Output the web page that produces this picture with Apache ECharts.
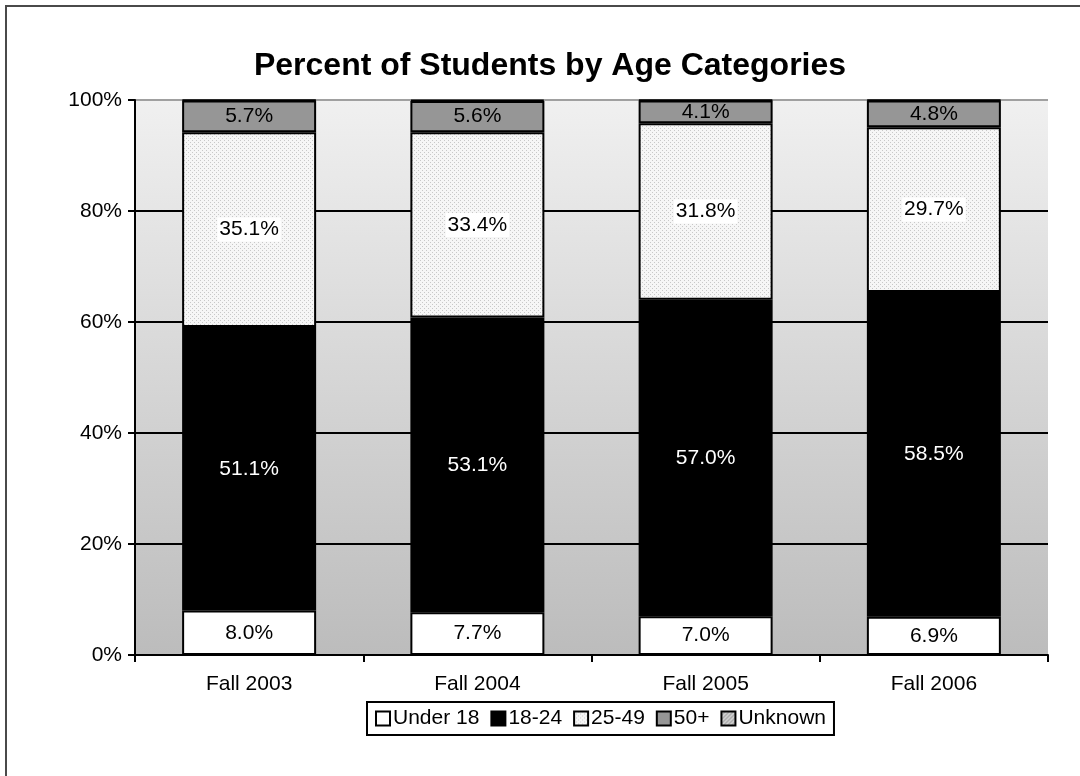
<!DOCTYPE html>
<html>
<head>
<meta charset="utf-8">
<script src="https://cdn.jsdelivr.net/npm/echarts@6/dist/echarts.min.js"></script>
<style>
html,body{margin:0;padding:0;background:#fff;}
#chart{width:1080px;height:776px;}
</style>
</head>
<body>
<div id="chart"></div>
<script>
var categories = ['Fall 2003', 'Fall 2004', 'Fall 2005', 'Fall 2006'];
var under18 = [8.0, 7.7, 7.0, 6.9];
var age18to24 = [51.1, 53.1, 57.0, 58.5];
var age25to49 = [35.1, 33.4, 31.8, 29.7];
var age50plus = [5.7, 5.6, 4.1, 4.8];
var unknown = [0.1, 0.2, 0.1, 0.1];
var yTicks = [0, 20, 40, 60, 80, 100];

function makePattern(type) {
  var c = document.createElement('canvas');
  c.width = 4; c.height = 4;
  var ctx = c.getContext('2d');
  if (type === 'dots') {
    ctx.fillStyle = '#f6f6f6';
    ctx.fillRect(0, 0, 4, 4);
    ctx.fillStyle = '#c8c8c8';
    ctx.fillRect(0, 0, 1, 1);
    ctx.fillRect(2, 2, 1, 1);
  } else {
    ctx.fillStyle = '#d0d0d0';
    ctx.fillRect(0, 0, 4, 4);
    ctx.fillStyle = '#8a8a8a';
    ctx.fillRect(0, 3, 1, 1);
    ctx.fillRect(1, 2, 1, 1);
    ctx.fillRect(2, 1, 1, 1);
    ctx.fillRect(3, 0, 1, 1);
  }
  return { image: c, repeat: 'repeat' };
}

var FONT = 'Liberation Sans, Arial, sans-serif';
var FS = 21;
function fmt(p) { return p.value.toFixed(1) + '%'; }

var chart = echarts.init(document.getElementById('chart'), null, { renderer: 'canvas' });
var baseItem = { borderColor: '#000', borderWidth: 2 };

chart.setOption({
  backgroundColor: '#fff',
  animation: false,
  textStyle: { fontFamily: FONT },
  graphic: [{
    type: 'rect',
    shape: { x: 6, y: 6, width: 2000, height: 2000 },
    style: { fill: 'none', stroke: '#4a4a4a', lineWidth: 2 },
    silent: true
  }],
  title: {
    text: 'Percent of Students by Age Categories',
    left: 545, textAlign: 'center', top: 45,
    textStyle: { fontFamily: FONT, fontSize: 32, fontWeight: 'bold', color: '#000' }
  },
  legend: {
    left: 367, top: 702,
    orient: 'horizontal',
    borderColor: '#000', borderWidth: 2,
    padding: [6, 8, 6, 8],
    itemWidth: 14, itemHeight: 14, itemGap: 11,
    icon: 'rect',
    textStyle: { fontFamily: FONT, fontSize: FS, color: '#000', padding: [0, 0, 0, -2] },
    data: ['Under 18', '18-24', '25-49', '50+', 'Unknown']
  },
  grid: {
    left: 135, right: 32, top: 100, bottom: 121,
    show: true,
    borderWidth: 0,
    backgroundColor: {
      type: 'linear', x: 0, y: 0, x2: 0, y2: 1,
      colorStops: [{ offset: 0, color: '#f0f0f0' }, { offset: 1, color: '#bcbcbc' }]
    }
  },
  xAxis: {
    type: 'category',
    data: categories,
    axisLine: { lineStyle: { color: '#000', width: 2 } },
    axisTick: { show: true, length: 7, lineStyle: { color: '#000', width: 2 } },
    axisLabel: { fontFamily: FONT, fontSize: FS, color: '#000', margin: 19 }
  },
  yAxis: {
    type: 'value',
    min: 0, max: 100, interval: 20,
    axisLine: { show: true, lineStyle: { color: '#000', width: 2 } },
    axisTick: { show: true, length: 7, lineStyle: { color: '#000', width: 2 } },
    axisLabel: {
      fontFamily: FONT, fontSize: FS, color: '#000', margin: 13,
      formatter: function (v) { return yTicks.indexOf(v) >= 0 ? v + '%' : ''; }
    },
    splitLine: { show: true, lineStyle: { color: ['#000', '#000', '#000', '#000', '#000', '#a0a0a0'], width: 2 } }
  },
  series: [
    {
      name: 'Under 18', type: 'bar', stack: 'a', barWidth: 134, data: under18,
      itemStyle: Object.assign({ color: '#ffffff' }, baseItem),
      label: { show: true, position: 'inside', formatter: fmt, fontFamily: FONT, fontSize: FS, color: '#000' }
    },
    {
      name: '18-24', type: 'bar', stack: 'a', barWidth: 134, data: age18to24,
      itemStyle: Object.assign({ color: '#000000' }, baseItem),
      label: { show: true, position: 'inside', formatter: fmt, fontFamily: FONT, fontSize: FS, color: '#fff' }
    },
    {
      name: '25-49', type: 'bar', stack: 'a', barWidth: 134, data: age25to49,
      itemStyle: Object.assign({ color: makePattern('dots') }, baseItem),
      label: { show: true, position: 'inside', formatter: fmt, fontFamily: FONT, fontSize: FS, color: '#000',
        backgroundColor: '#fff', padding: [2, 2, 1, 2] }
    },
    {
      name: '50+', type: 'bar', stack: 'a', barWidth: 134, data: age50plus,
      itemStyle: Object.assign({ color: '#969696' }, baseItem),
      label: { show: true, position: 'inside', formatter: fmt, fontFamily: FONT, fontSize: FS, color: '#000' }
    },
    {
      name: 'Unknown', type: 'bar', stack: 'a', barWidth: 134, data: unknown,
      itemStyle: Object.assign({ color: makePattern('hatch') }, baseItem),
      label: { show: false }
    }
  ]
});
</script>
</body>
</html>
